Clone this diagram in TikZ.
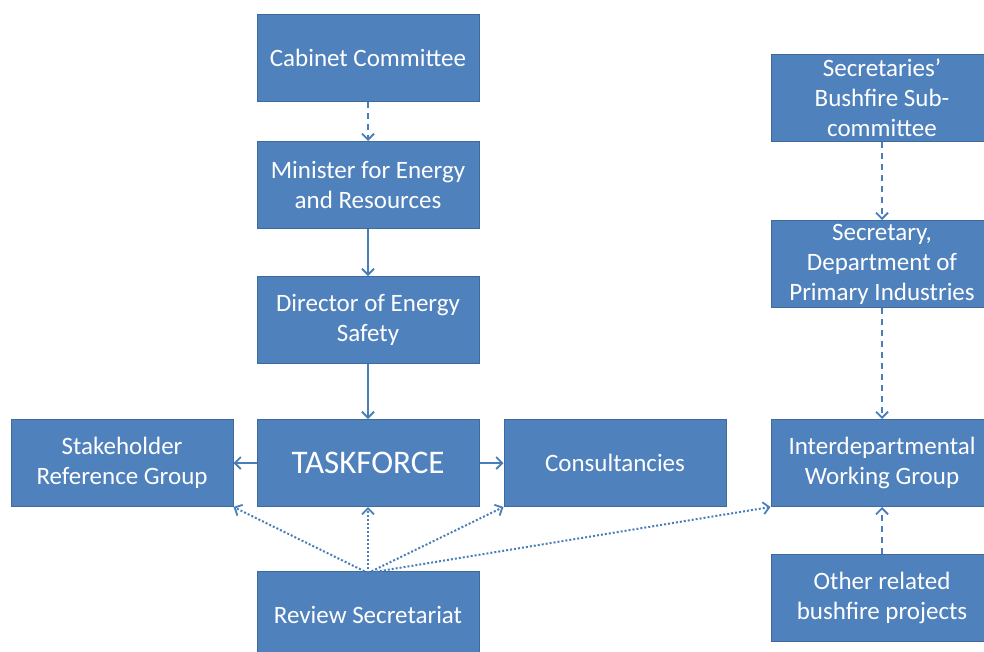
\documentclass[tikz,border=0pt]{standalone}
\usepackage{fontspec}
\setmainfont{Carlito}
\usetikzlibrary{arrows.meta}
\definecolor{boxfill}{HTML}{4F81BD}
\definecolor{boxline}{HTML}{3F6A9C}
\definecolor{arrowcol}{HTML}{4A7EBB}
\tikzset{
  orgbox/.style={draw=boxline, line width=1pt, fill=boxfill, text=white,
    minimum width=222pt, minimum height=87pt, align=center, inner sep=2pt,
    font=\fontsize{25}{30}\selectfont},
  conn/.style={draw=arrowcol, line width=2pt, -{Straight Barb[length=6pt,width=12pt,line width=1.8pt]}},
  dashconn/.style={conn, dash pattern=on 6pt off 5pt},
  dotconn/.style={conn, dash pattern=on 2pt off 2pt}
}
\begin{document}
\begin{tikzpicture}[x=1pt,y=-1pt]
\useasboundingbox (0,0) rectangle (984,651);
\clip (0,0) rectangle (984,651);
\node[orgbox] (cab) at (368,58) {Cabinet Committee};
\node[orgbox] (min) at (368,185) {Minister for Energy\\and Resources};
\node[orgbox] (dir) at (368,320) {Director of Energy\\Safety};
\node[orgbox, font=\fontsize{33}{38}\selectfont] (task) at (368,463) {TASKFORCE};
\node[orgbox] (stake) at (122,463) {Stakeholder\\Reference Group};
\node[orgbox] (cons) at (615,463) {Consultancies};
\node[orgbox] (rev) at (368,615) {Review Secretariat};
\node[orgbox] (sec) at (882,98) {Secretaries’\\Bushfire Sub-\\committee};
\node[orgbox] (dpi) at (882,264) {Secretary,\\Department of\\Primary Industries};
\node[orgbox] (idwg) at (882,463) {Interdepartmental\\Working Group};
\node[orgbox] (other) at (882,598) {Other related\\bushfire projects};

\draw[dashconn] (cab) -- (min);
\draw[conn] (min) -- (dir);
\draw[conn] (dir) -- (task);
\draw[conn] (task) -- (stake);
\draw[conn] (task) -- (cons);
\draw[dashconn] (sec) -- (dpi);
\draw[dashconn] (dpi) -- (idwg);
\draw[dashconn] (other) -- (idwg);
\coordinate (hub) at ([yshift=-2pt]rev.north);
\draw[dotconn] (hub) -- (stake.south east);
\draw[dotconn] (hub) -- (task.south);
\draw[dotconn] (hub) -- (cons.south west);
\draw[dotconn] (hub) -- (idwg.south west);
\end{tikzpicture}
\end{document}
